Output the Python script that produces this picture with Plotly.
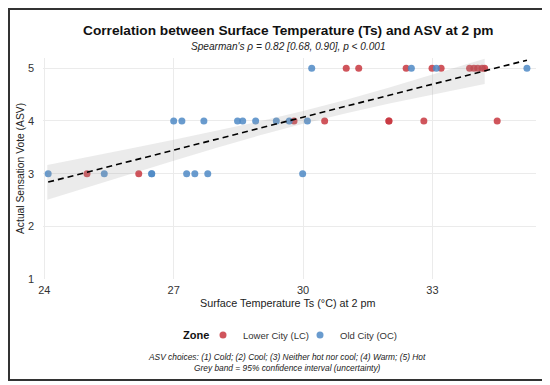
import plotly.graph_objects as go

# ---- data ----
lc_ts = [24.99, 26.19,
         29.79, 30.50, 31.99, 31.99, 32.80, 34.50,
         31.00, 31.29, 32.39, 32.99, 33.20, 33.86, 33.96, 34.05, 34.15, 34.21]
lc_asv = [3, 3,
          4, 4, 4, 4, 4, 4,
          5, 5, 5, 5, 5, 5, 5, 5, 5, 5]

oc_ts = [24.09, 25.39, 26.49, 26.49, 27.30, 27.49, 27.79, 29.99,
         27.00, 27.19, 27.70, 28.48, 28.60, 28.90, 29.38, 29.68, 30.10,
         30.20, 32.51, 33.09, 35.19]
oc_asv = [3, 3, 3, 3, 3, 3, 3, 3,
          4, 4, 4, 4, 4, 4, 4, 4, 4,
          5, 5, 5, 5]

trend_x = [24.09, 35.19]
trend_y = [2.84, 5.155]

band_x = [24.07, 25, 26, 27, 28, 29, 30, 31, 32, 33, 34.21]
band_lo = [2.505, 2.742, 2.995, 3.245, 3.491, 3.727, 3.948, 4.148, 4.331, 4.503, 4.704]
band_hi = [3.165, 3.314, 3.477, 3.643, 3.813, 3.993, 4.188, 4.404, 4.637, 4.881, 5.184]

x_ticks = [24, 27, 30, 33]
y_ticks = [1, 2, 3, 4, 5]

RED = "#C8373F"
BLUE = "#4F8AC6"
FONT = "Arial, Liberation Sans, sans-serif"

fig = go.Figure()

fig.add_trace(go.Scatter(x=lc_ts, y=lc_asv, mode="markers", name="Lower City (LC)",
                         marker=dict(color=RED, size=7, opacity=0.85, line=dict(width=0))))
fig.add_trace(go.Scatter(x=oc_ts, y=oc_asv, mode="markers", name="Old City (OC)",
                         marker=dict(color=BLUE, size=7, opacity=0.85, line=dict(width=0))))

fig.add_trace(go.Scatter(x=band_x + band_x[::-1], y=band_lo + band_hi[::-1],
                         fill="toself", fillcolor="rgba(153,153,153,0.2)",
                         line=dict(width=0), mode="lines", hoverinfo="skip",
                         showlegend=False))
fig.add_trace(go.Scatter(x=trend_x, y=trend_y, mode="lines",
                         line=dict(color="black", width=1.6, dash="6px,4px"),
                         showlegend=False, hoverinfo="skip"))

# page has an 8px body margin: lay the figure out in page coordinates minus 8
S = 8
W, H = 550 - S, 385 - S
L, R, T = 43 - S, 14, 58 - S
B = H - (279 - S)
pw, ph = W - L - R, H - T - B

def px(x):
    return (x - S - L) / pw

def py(y):
    return (H - B - (y - S)) / ph

CX = 288
ann = [
    dict(text="<b>Correlation between Surface Temperature (Ts) and ASV at 2 pm</b>",
         x=px(CX), y=py(31), font=dict(size=13.7, color="#111")),
    dict(text="<i>Spearman's ρ = 0.82 [0.68, 0.90], p &lt; 0.001</i>",
         x=px(CX), y=py(47), font=dict(size=10.1, color="#222")),
    dict(text="Surface Temperature Ts (°C) at 2 pm",
         x=px(CX), y=py(303), font=dict(size=10.8, color="#222")),
    dict(text="Actual Sensation Vote (ASV)", textangle=-90,
         x=px(20), y=py(169), font=dict(size=10.3, color="#222")),
    dict(text="<i>ASV choices: (1) Cold; (2) Cool; (3) Neither hot nor cool; (4) Warm; (5) Hot</i>"
              "<br><i>Grey band = 95% confidence interval (uncertainty)</i>",
         x=px(287), y=py(362), font=dict(size=8.4, color="#222")),
]
for a in ann:
    a.update(xref="paper", yref="paper", showarrow=False, xanchor="center", yanchor="middle")
# legend title
ann.append(dict(text="<b>Zone</b>", x=px(211), y=py(335), xref="paper", yref="paper",
                showarrow=False, xanchor="right", yanchor="middle",
                font=dict(size=11, color="#111")))

fig.update_layout(
    width=W, height=H,
    margin=dict(l=L, r=R, t=T, b=B),
    paper_bgcolor="white", plot_bgcolor="white",
    font=dict(family=FONT, color="#333"),
    showlegend=True,
    legend=dict(orientation="h", x=px(203), y=py(335), xanchor="left", yanchor="middle",
                font=dict(size=9.5, color="#333"), itemwidth=30,
                entrywidthmode="pixels", entrywidth=52,
                bgcolor="rgba(0,0,0,0)"),
    annotations=ann,
    shapes=[dict(type="rect", xref="paper", yref="paper",
                 x0=px(S + 1), x1=px(545), y0=py(380), y1=py(S + 1),
                 line=dict(color="#333", width=2), layer="above")],
    xaxis=dict(range=[23.97, 35.40], tickvals=x_ticks, showgrid=True, gridcolor="#ebebeb",
               gridwidth=1, zeroline=False, showline=False, ticks="",
               ticklabelstandoff=3,
               tickfont=dict(size=11, color="#333"), automargin=False),
    yaxis=dict(range=[1, 5.196], tickvals=y_ticks, showgrid=True, gridcolor="#ebebeb",
               gridwidth=1, zeroline=False, showline=False, ticks="",
               ticklabelstandoff=8,
               tickfont=dict(size=11, color="#333"), automargin=False),
)

fig.write_html("out.html")
